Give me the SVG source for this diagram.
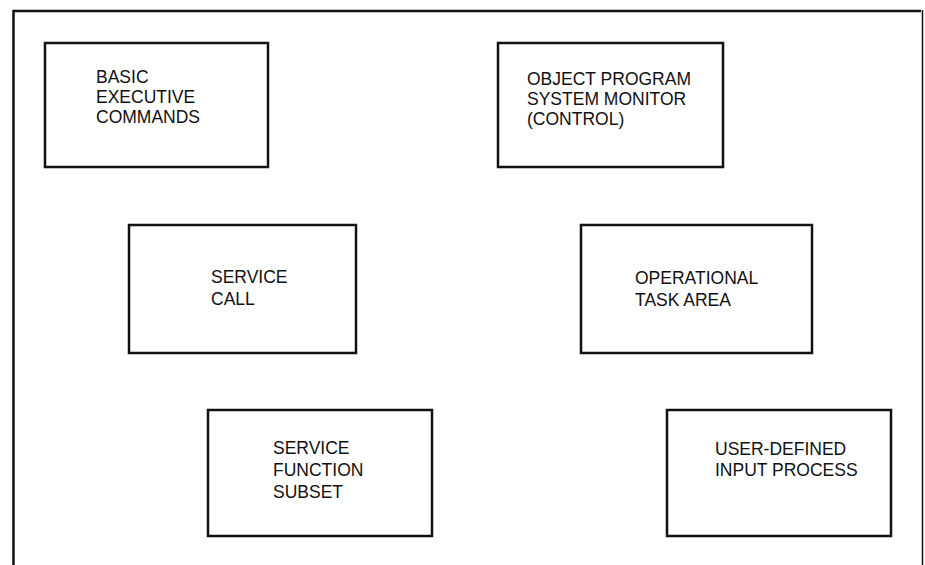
<svg xmlns="http://www.w3.org/2000/svg" width="925" height="565" viewBox="0 0 925 565">
<style>
.box{fill:#fff;stroke:#111;stroke-width:2.5}
.lbl{font-family:"Liberation Sans",Arial,sans-serif;font-size:17.5px;fill:#111}
.frame{fill:none;stroke:#111}
</style>
<rect width="925" height="565" fill="#fff"/>
<g id="frame">
<path class="frame" d="M13.5,565 V11 H921" stroke-width="2.5"/>
<path class="frame" d="M922.5,10 V565" stroke-width="1.5"/>
</g>
<g id="connectors"></g>
<g id="basic-executive-commands">
<rect class="box" x="45" y="43" width="223" height="124"/>
<text class="lbl" x="96"><tspan x="96" y="83">BASIC</tspan><tspan x="96" y="103">EXECUTIVE</tspan><tspan x="96" y="123">COMMANDS</tspan></text>
</g>
<g id="object-program-system-monitor">
<rect class="box" x="498" y="43" width="225" height="124"/>
<text class="lbl"><tspan x="527" y="85">OBJECT PROGRAM</tspan><tspan x="527" y="105">SYSTEM MONITOR</tspan><tspan x="527" y="125">(CONTROL)</tspan></text>
</g>
<g id="service-call">
<rect class="box" x="129" y="225" width="227" height="128"/>
<text class="lbl"><tspan x="211" y="283">SERVICE</tspan><tspan x="211" y="305">CALL</tspan></text>
</g>
<g id="operational-task-area">
<rect class="box" x="581" y="225" width="231" height="128"/>
<text class="lbl"><tspan x="635" y="284">OPERATIONAL</tspan><tspan x="635" y="306">TASK AREA</tspan></text>
</g>
<g id="service-function-subset">
<rect class="box" x="208" y="410" width="224" height="126"/>
<text class="lbl"><tspan x="273" y="454">SERVICE</tspan><tspan x="273" y="476">FUNCTION</tspan><tspan x="273" y="498">SUBSET</tspan></text>
</g>
<g id="user-defined-input-process">
<rect class="box" x="667" y="410" width="224" height="126"/>
<text class="lbl"><tspan x="715" y="455">USER-DEFINED</tspan><tspan x="715" y="476">INPUT PROCESS</tspan></text>
</g>
</svg>
